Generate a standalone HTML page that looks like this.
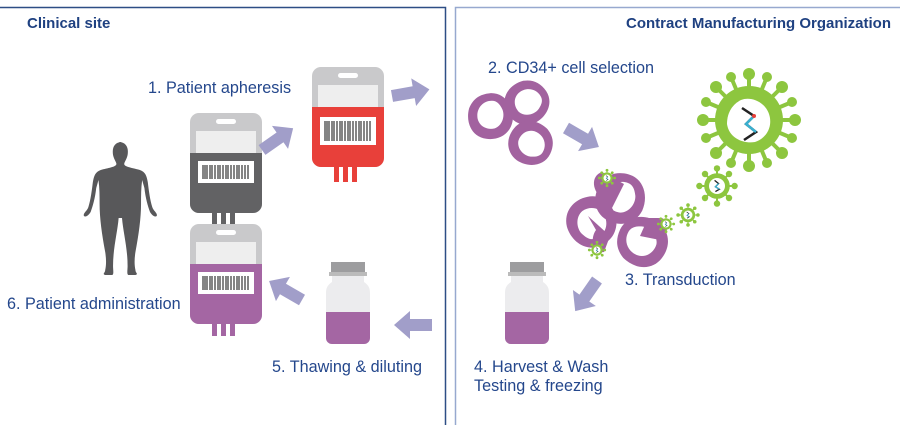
<!DOCTYPE html>
<html><head><style>
body{margin:0;background:#fff;}
svg{display:block;font-family:"Liberation Sans",sans-serif;}
</style></head><body>
<svg width="900" height="434" viewBox="0 0 900 434">
<defs>
<g id="bagbase">
  <rect x="0" y="0" width="72" height="100" rx="9" fill="#c9c9cb"/>
  <rect x="26" y="6" width="20" height="5" rx="2.5" fill="#fff"/>
  <rect x="6" y="18" width="60" height="22" fill="#eeeeee"/>
</g>
<g id="arrow"><path d="M0,-6 L22,-6 L22,-14 L38,0 L22,14 L22,6 L0,6 Z" fill="#a19ec9"/></g>
<g id="cell"><path d="M0,-24 C15,-25 25,-11 24,4 C22,19 9,26 -4,24 C-19,22 -26,7 -22,-8 C-18,-18 -11,-23 0,-24 Z M2,-16 C-8,-16 -15,-7 -13,3 C-11,11 -3,15 5,13 C13,10 16,0 13,-7 C10,-13 7,-16 2,-16 Z" fill="#a2629f" fill-rule="evenodd"/></g>
<g id="virus">
  <g fill="#8dc63f">
   <circle r="16"/>
   <g stroke="#8dc63f" stroke-width="2.5">
    <line x1="0" y1="0" x2="0" y2="-22"/><line x1="0" y1="0" x2="0" y2="22"/>
    <line x1="0" y1="0" x2="-22" y2="0"/><line x1="0" y1="0" x2="22" y2="0"/>
    <line x1="0" y1="0" x2="15" y2="15"/><line x1="0" y1="0" x2="-15" y2="-15"/>
    <line x1="0" y1="0" x2="15" y2="-15"/><line x1="0" y1="0" x2="-15" y2="15"/>
   </g>
   <circle cx="0" cy="-22" r="4"/><circle cx="0" cy="22" r="4"/><circle cx="-22" cy="0" r="4"/><circle cx="22" cy="0" r="4"/>
   <circle cx="15" cy="15" r="4"/><circle cx="-15" cy="-15" r="4"/><circle cx="15" cy="-15" r="4"/><circle cx="-15" cy="15" r="4"/>
  </g>
  <circle r="10" fill="#fff"/>
  <path d="M-3,-7 L2,-3 L-2,1 L3,4 L-2,7" fill="none" stroke="#222" stroke-width="1.6"/>
  <path d="M2,-3 L-2,1 L3,4" fill="none" stroke="#3ab0d0" stroke-width="1.6"/>
</g>
</defs>

<!-- frame -->
<path d="M0,7.5 H445.5 V425" fill="none" stroke="#2d4e85" stroke-width="1.5"/>
<path d="M455.5,425 V7.5 H900" fill="none" stroke="#97a9cf" stroke-width="1.5"/>

<text x="27" y="28" font-size="15" font-weight="bold" fill="#1f4181">Clinical site</text>
<text x="891" y="28" font-size="15" font-weight="bold" fill="#1f4181" text-anchor="end">Contract Manufacturing Organization</text>

<g font-size="16.2" fill="#24478c">
<text x="148" y="93">1. Patient apheresis</text>
<text x="488" y="73">2. CD34+ cell selection</text>
<text x="625" y="285">3. Transduction</text>
<text x="474" y="372">4. Harvest &amp; Wash</text>
<text x="474" y="391">Testing &amp; freezing</text>
<text x="272" y="372">5. Thawing &amp; diluting</text>
<text x="7" y="309">6. Patient administration</text>
</g>

<!-- human -->
<g transform="translate(122,0) scale(1.12,1) translate(-122,0)">
<path fill="#58585a" d="M122,142 c-7,0 -9,6 -8,13 c1,5 3,7 3,9 c0,3 -8,4 -14,6 c-5,2 -6,6 -7,12 c-1,9 -2,18 -4,25 c-1,4 -5,6 -4,9 c2,2 5,-2 6,-4 c2,-6 4,-14 5,-24 l2,-8 c1,8 1,16 1,24 c0,14 2,30 5,48 c1,7 1,13 0,18 c0,3 -3,4 0,5 h6 c2,0 1,-5 1,-9 c0,-18 4,-34 5,-48 h3 c1,14 5,30 5,48 c0,4 -1,9 1,9 h6 c3,-1 0,-2 0,-5 c-1,-5 -1,-11 0,-18 c3,-18 5,-34 5,-48 c0,-8 0,-16 1,-24 l2,8 c1,10 3,18 5,24 c1,2 4,6 6,4 c1,-3 -3,-5 -4,-9 c-2,-7 -3,-16 -4,-25 c-1,-6 -2,-10 -7,-12 c-6,-2 -14,-3 -14,-6 c0,-2 2,-4 3,-9 c1,-7 -1,-13 -8,-13z"/>
</g>

<!-- gray bag -->
<g transform="translate(190,113)">
 <use href="#bagbase"/>
 <path d="M0,40 H72 V91 a9,9 0 0 1 -9,9 H9 a9,9 0 0 1 -9,-9 Z" fill="#626264"/>
 <rect x="8" y="48" width="56" height="22" fill="#fff"/>
 <path d="M13,52v14M15,52v14M17,52v14M20,52v14M22,52v14M25,52v14M28,52v14M30,52v14M33,52v14M36,52v14M38,52v14M41,52v14M44,52v14M47,52v14M49,52v14M52,52v14M55,52v14M58,52v14" stroke="#333" stroke-width="1.2"/>
 <rect x="22" y="98" width="5" height="16" fill="#626264"/><rect x="31" y="98" width="5" height="16" fill="#626264"/><rect x="40" y="98" width="5" height="16" fill="#626264"/>
</g>
<!-- red bag -->
<g transform="translate(312,67)">
 <use href="#bagbase"/>
 <path d="M0,40 H72 V91 a9,9 0 0 1 -9,9 H9 a9,9 0 0 1 -9,-9 Z" fill="#e8403a"/>
 <rect x="8" y="50" width="56" height="28" fill="#fff"/>
 <path d="M13,54v20M15,54v20M17,54v20M20,54v20M22,54v20M25,54v20M28,54v20M30,54v20M33,54v20M36,54v20M38,54v20M41,54v20M44,54v20M47,54v20M49,54v20M52,54v20M55,54v20M58,54v20" stroke="#333" stroke-width="1.2"/>
 <rect x="22" y="98" width="5" height="17" fill="#e8403a"/><rect x="31" y="98" width="5" height="17" fill="#e8403a"/><rect x="40" y="98" width="5" height="17" fill="#e8403a"/>
</g>
<!-- purple bag -->
<g transform="translate(190,224)">
 <use href="#bagbase"/>
 <path d="M0,40 H72 V91 a9,9 0 0 1 -9,9 H9 a9,9 0 0 1 -9,-9 Z" fill="#a466a3"/>
 <rect x="8" y="48" width="56" height="22" fill="#fff"/>
 <path d="M13,52v14M15,52v14M17,52v14M20,52v14M22,52v14M25,52v14M28,52v14M30,52v14M33,52v14M36,52v14M38,52v14M41,52v14M44,52v14M47,52v14M49,52v14M52,52v14M55,52v14M58,52v14" stroke="#333" stroke-width="1.2"/>
 <rect x="22" y="98" width="5" height="14" fill="#a466a3"/><rect x="31" y="98" width="5" height="14" fill="#a466a3"/><rect x="40" y="98" width="5" height="14" fill="#a466a3"/>
</g>

<!-- vials -->
<g transform="translate(326,262)">
 <rect x="5" y="0" width="34" height="10" fill="#9d9d9f"/>
 <rect x="3" y="10" width="38" height="4" fill="#bbb"/>
 <path d="M6,14 H38 V20 C44,24 44,28 44,32 V76 a6,6 0 0 1 -6,6 H6 a6,6 0 0 1 -6,-6 V32 C0,28 0,24 6,20 Z" fill="#ececee"/>
 <path d="M0,50 H44 V76 a6,6 0 0 1 -6,6 H6 a6,6 0 0 1 -6,-6 Z" fill="#a466a3"/>
</g>
<g transform="translate(505,262)">
 <rect x="5" y="0" width="34" height="10" fill="#9d9d9f"/>
 <rect x="3" y="10" width="38" height="4" fill="#bbb"/>
 <path d="M6,14 H38 V20 C44,24 44,28 44,32 V76 a6,6 0 0 1 -6,6 H6 a6,6 0 0 1 -6,-6 V32 C0,28 0,24 6,20 Z" fill="#ececee"/>
 <path d="M0,50 H44 V76 a6,6 0 0 1 -6,6 H6 a6,6 0 0 1 -6,-6 Z" fill="#a466a3"/>
</g>

<!-- arrows -->
<use href="#arrow" transform="translate(262,150) rotate(-35)"/>
<use href="#arrow" transform="translate(392,96) rotate(-10)"/>
<use href="#arrow" transform="translate(566,128) rotate(30)"/>
<use href="#arrow" transform="translate(597,280) rotate(125)"/>
<use href="#arrow" transform="translate(432,325) rotate(180)"/>
<use href="#arrow" transform="translate(302,300) rotate(-150)"/>

<!-- cells -->
<use href="#cell" transform="translate(490,116) scale(0.95)"/>
<use href="#cell" transform="translate(527,102) scale(0.92) rotate(60)"/>
<use href="#cell" transform="translate(531,143) scale(0.92) rotate(120)"/>

<path d="M602,172 C590,176 592,192 604,200 L612,208 L624,184 Z" fill="#a2629f"/>
<use href="#cell" transform="translate(620,198) scale(1.05) rotate(20)"/>
<path d="M604,252 C592,254 590,238 596,230 L588,216 L610,236 Z" fill="#a2629f"/>
<use href="#cell" transform="translate(592,222) scale(1.05) rotate(160)"/>
<path d="M662,218 C670,222 668,236 660,240 L640,236 L648,218 Z" fill="#a2629f"/>
<use href="#cell" transform="translate(642,242) scale(1.05) rotate(-60)"/>

<!-- big virus -->
<g transform="translate(749,120)" fill="#8dc63f">
 <g stroke="#8dc63f" stroke-width="4">
  <line x1="0" y1="0" x2="0" y2="-46"/><line x1="0" y1="0" x2="0" y2="46"/>
  <line x1="0" y1="0" x2="-46" y2="0"/><line x1="0" y1="0" x2="46" y2="0"/>
  <line x1="0" y1="0" x2="33" y2="33"/><line x1="0" y1="0" x2="-33" y2="-33"/>
  <line x1="0" y1="0" x2="33" y2="-33"/><line x1="0" y1="0" x2="-33" y2="33"/>
  <line x1="0" y1="0" x2="18" y2="-43"/><line x1="0" y1="0" x2="-18" y2="43"/>
  <line x1="0" y1="0" x2="43" y2="18"/><line x1="0" y1="0" x2="-43" y2="-18"/>
  <line x1="0" y1="0" x2="-18" y2="-43"/><line x1="0" y1="0" x2="18" y2="43"/>
  <line x1="0" y1="0" x2="43" y2="-18"/><line x1="0" y1="0" x2="-43" y2="18"/>
 </g>
 <circle r="34"/>
 <circle cx="0" cy="-46" r="6"/><circle cx="0" cy="46" r="6"/><circle cx="-46" cy="0" r="6"/><circle cx="46" cy="0" r="6"/>
 <circle cx="33" cy="33" r="6"/><circle cx="-33" cy="-33" r="6"/><circle cx="33" cy="-33" r="6"/><circle cx="-33" cy="33" r="6"/>
 <circle cx="18" cy="-43" r="5"/><circle cx="-18" cy="43" r="5"/><circle cx="43" cy="18" r="5"/><circle cx="-43" cy="-18" r="5"/>
 <circle cx="-18" cy="-43" r="5"/><circle cx="18" cy="43" r="5"/><circle cx="43" cy="-18" r="5"/><circle cx="-43" cy="18" r="5"/>
 <path d="M-8,-20 C2,-24 16,-18 20,-6 C24,6 18,18 6,22 C-6,24 -20,18 -22,4 C-22,-8 -16,-16 -8,-20 Z" fill="#fff"/>
</g>
<path d="M742,108 L754,116 L746,124 L756,132 L744,140" fill="none" stroke="#222" stroke-width="2.5"/>
<path d="M754,116 L746,124 L756,132" fill="none" stroke="#3ab0d0" stroke-width="2.5"/>
<circle cx="754" cy="116" r="2" fill="#e8403a"/>

<!-- small viruses -->
<use href="#virus" transform="translate(717,186) scale(0.8)"/>
<use href="#virus" transform="translate(688,215) scale(0.45)"/>
<use href="#virus" transform="translate(607,178) scale(0.35)"/>
<use href="#virus" transform="translate(597,250) scale(0.35)"/>
<use href="#virus" transform="translate(666,224) scale(0.35)"/>
</svg>
</body></html>
